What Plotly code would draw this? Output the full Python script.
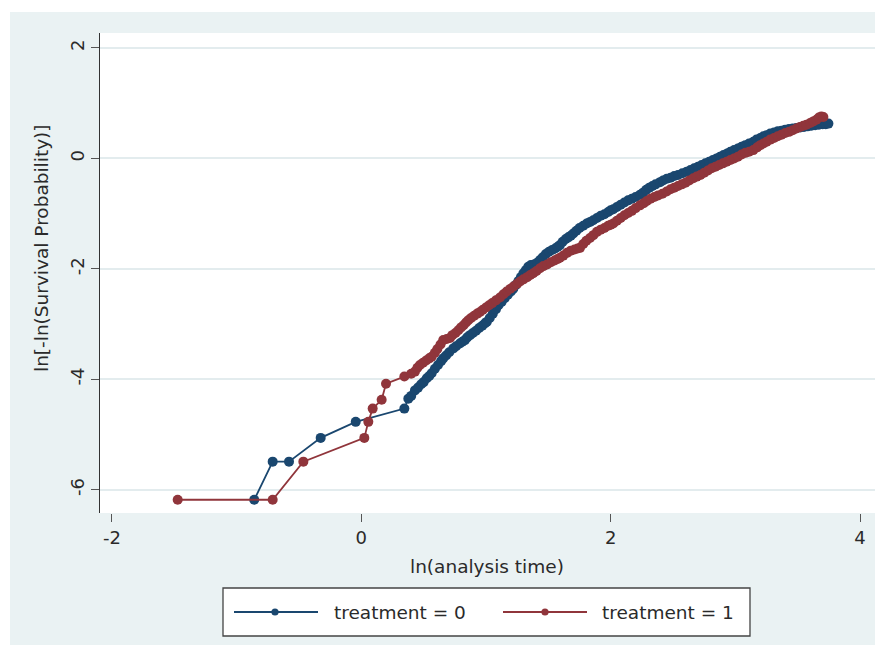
import plotly.graph_objects as go

# treatment = 0 (blue)
t0_x = [-0.859, -0.711, -0.580, -0.326, -0.045, 0.345, 0.377, 0.400, 0.430, 0.455,
        0.480, 0.500, 0.525, 0.545, 0.564, 0.590, 0.615, 0.640, 0.657, 0.680,
        0.705, 0.738, 0.760, 0.790, 0.810, 0.831, 0.850, 0.872, 0.895, 0.920,
        0.945, 0.970, 0.990, 1.006, 1.030, 1.055, 1.080, 1.100, 1.125, 1.150,
        1.175, 1.200, 1.219, 1.240, 1.260, 1.280, 1.300, 1.320, 1.340, 1.360,
        1.385, 1.410, 1.433, 1.455, 1.480, 1.505, 1.530, 1.555, 1.575, 1.593,
        1.615, 1.640, 1.660, 1.680, 1.700, 1.725, 1.750, 1.780, 1.808, 1.835,
        1.860, 1.890, 1.920, 1.950, 1.980, 2.000, 2.021, 2.050, 2.080, 2.110,
        2.140, 2.170, 2.200, 2.235, 2.260, 2.285, 2.310, 2.335, 2.360, 2.396,
        2.420, 2.450, 2.480, 2.510, 2.540, 2.575, 2.610, 2.640, 2.670, 2.700,
        2.730, 2.760, 2.790, 2.820, 2.850, 2.877, 2.905, 2.935, 2.960, 2.990,
        3.020, 3.050, 3.080, 3.110, 3.144, 3.170, 3.200, 3.225, 3.250, 3.280,
        3.310, 3.340, 3.370, 3.400, 3.430, 3.460, 3.490, 3.520, 3.550, 3.580,
        3.610, 3.640, 3.670, 3.700, 3.725, 3.746]
t0_y = [-6.18, -5.49, -5.49, -5.06, -4.77, -4.53, -4.35, -4.30, -4.20, -4.15,
        -4.09, -4.05, -3.98, -3.94, -3.89, -3.81, -3.74, -3.67, -3.62, -3.57,
        -3.51, -3.44, -3.40, -3.35, -3.32, -3.29, -3.24, -3.20, -3.16, -3.12,
        -3.07, -3.03, -2.99, -2.96, -2.89, -2.81, -2.73, -2.66, -2.60, -2.53,
        -2.47, -2.41, -2.36, -2.29, -2.22, -2.15, -2.08, -2.02, -1.96, -1.93,
        -1.92, -1.89, -1.84, -1.79, -1.73, -1.69, -1.66, -1.63, -1.60, -1.57,
        -1.51, -1.46, -1.43, -1.40, -1.36, -1.31, -1.26, -1.22, -1.18, -1.15,
        -1.12, -1.08, -1.04, -1.01, -0.97, -0.94, -0.92, -0.88, -0.84, -0.80,
        -0.76, -0.73, -0.70, -0.66, -0.62, -0.57, -0.53, -0.50, -0.47, -0.43,
        -0.40, -0.37, -0.35, -0.32, -0.30, -0.27, -0.24, -0.21, -0.18, -0.15,
        -0.12, -0.09, -0.06, -0.03, 0.00, 0.03, 0.06, 0.09, 0.12, 0.15,
        0.18, 0.21, 0.24, 0.27, 0.30, 0.34, 0.37, 0.40, 0.42, 0.45,
        0.47, 0.49, 0.50, 0.52, 0.53, 0.54, 0.55, 0.56, 0.57, 0.58,
        0.59, 0.60, 0.61, 0.62, 0.62, 0.63]

# treatment = 1 (red)
t1_x = [-1.473, -0.711, -0.465, 0.024, 0.056, 0.091, 0.163, 0.198, 0.345, 0.400,
        0.430, 0.450, 0.470, 0.495, 0.520, 0.545, 0.564, 0.590, 0.610, 0.635,
        0.657, 0.685, 0.711, 0.730, 0.755, 0.778, 0.800, 0.820, 0.840, 0.858,
        0.880, 0.905, 0.930, 0.952, 0.975, 1.000, 1.025, 1.050, 1.080, 1.112,
        1.140, 1.166, 1.195, 1.220, 1.250, 1.273, 1.300, 1.330, 1.355, 1.379,
        1.405, 1.433, 1.460, 1.490, 1.520, 1.550, 1.575, 1.593, 1.620, 1.650,
        1.680, 1.710, 1.735, 1.754, 1.780, 1.805, 1.834, 1.861, 1.890, 1.920,
        1.950, 1.980, 2.000, 2.021, 2.050, 2.080, 2.110, 2.140, 2.170, 2.200,
        2.235, 2.265, 2.290, 2.320, 2.350, 2.380, 2.415, 2.449, 2.480, 2.510,
        2.540, 2.570, 2.600, 2.630, 2.663, 2.690, 2.720, 2.750, 2.780, 2.810,
        2.840, 2.870, 2.900, 2.930, 2.960, 2.990, 3.020, 3.050, 3.080, 3.110,
        3.144, 3.175, 3.200, 3.225, 3.251, 3.280, 3.310, 3.340, 3.370, 3.400,
        3.430, 3.460, 3.490, 3.519, 3.545, 3.570, 3.600, 3.625, 3.650, 3.670,
        3.690, 3.706]
t1_y = [-6.18, -6.18, -5.49, -5.06, -4.77, -4.53, -4.37, -4.08, -3.95, -3.90,
        -3.86, -3.79, -3.74, -3.70, -3.66, -3.62, -3.59, -3.52, -3.45, -3.37,
        -3.29, -3.27, -3.25, -3.20, -3.16, -3.11, -3.06, -3.02, -2.97, -2.93,
        -2.89, -2.85, -2.81, -2.78, -2.74, -2.70, -2.66, -2.62, -2.57, -2.52,
        -2.46, -2.41, -2.36, -2.32, -2.27, -2.23, -2.19, -2.15, -2.11, -2.08,
        -2.04, -1.99, -1.95, -1.92, -1.88, -1.85, -1.82, -1.80, -1.76, -1.71,
        -1.67, -1.65, -1.63, -1.62, -1.55, -1.49, -1.44, -1.39, -1.33, -1.29,
        -1.26, -1.22, -1.20, -1.18, -1.13, -1.08, -1.03, -0.99, -0.95, -0.90,
        -0.85, -0.81, -0.77, -0.73, -0.70, -0.67, -0.64, -0.60, -0.56, -0.53,
        -0.50, -0.47, -0.44, -0.40, -0.36, -0.33, -0.30, -0.26, -0.22, -0.18,
        -0.15, -0.12, -0.09, -0.06, -0.03, 0.00, 0.03, 0.07, 0.10, 0.12,
        0.15, 0.20, 0.24, 0.27, 0.30, 0.34, 0.37, 0.40, 0.43, 0.46,
        0.48, 0.51, 0.54, 0.57, 0.59, 0.61, 0.64, 0.67, 0.70, 0.74,
        0.76, 0.75]

x_ticks = [-2, 0, 2, 4]
y_ticks = [-6, -4, -2, 0, 2]
legend_labels = ["treatment = 0", "treatment = 1"]
x_title = "ln(analysis time)"
y_title = "ln[-ln(Survival Probability)]"

BLUE = "#1a476f"
RED = "#90353b"
BG = "#eaf2f3"
FONT = "DejaVu Sans, Liberation Sans, Arial, sans-serif"
TXT = "#2a2a2a"

# figure geometry (page has an 8px body margin)
OFF = 8
W, H = 883 - OFF, 653 - OFF
ml, mr, mt, mb = 100 - OFF, 6, 33 - OFF, 140
pw, ph = W - ml - mr, H - mt - mb

def pxx(xpage):
    return (xpage - OFF - ml) / pw

def pxy(ypage):
    return (H - mb - (ypage - OFF)) / ph

fig = go.Figure()
fig.add_trace(go.Scatter(x=t0_x, y=t0_y, mode="lines+markers", name=legend_labels[0],
                         line=dict(color=BLUE, width=1.8),
                         marker=dict(color=BLUE, size=10), showlegend=False))
fig.add_trace(go.Scatter(x=t1_x, y=t1_y, mode="lines+markers", name=legend_labels[1],
                         line=dict(color=RED, width=1.8),
                         marker=dict(color=RED, size=10), showlegend=False))

shapes = [
    dict(type="rect", xref="paper", yref="paper", layer="below",
         x0=pxx(10), x1=pxx(883), y0=pxy(645), y1=pxy(12),
         fillcolor=BG, line=dict(width=0)),
    dict(type="rect", xref="paper", yref="paper", layer="below",
         x0=0, x1=1, y0=0, y1=1, fillcolor="white", line=dict(width=0)),
    # legend box
    dict(type="rect", xref="paper", yref="paper",
         x0=pxx(223), x1=pxx(750), y0=pxy(636), y1=pxy(588),
         fillcolor="white", line=dict(color="#444444", width=1.3)),
]
annotations = [
    dict(text=y_title, xref="paper", yref="paper", x=pxx(42), y=pxy(248),
         xanchor="center", yanchor="middle", textangle=-90, showarrow=False,
         font=dict(family=FONT, size=18.5, color=TXT)),
    dict(text=x_title, xref="paper", yref="paper", x=pxx(487), y=pxy(566),
         xanchor="center", yanchor="middle", showarrow=False,
         font=dict(family=FONT, size=18.5, color=TXT)),
]
leg_y = 612
for (lx0, lx1, mx, tx), col, lab in zip([(234, 318, 275, 332), (503, 587, 545, 600)],
                                         [BLUE, RED], legend_labels):
    shapes.append(dict(type="line", xref="paper", yref="paper",
                       x0=pxx(lx0), x1=pxx(lx1), y0=pxy(leg_y), y1=pxy(leg_y),
                       line=dict(color=col, width=1.8)))
    r = 3.6
    shapes.append(dict(type="circle", xref="paper", yref="paper",
                       x0=pxx(mx - r), x1=pxx(mx + r), y0=pxy(leg_y + r), y1=pxy(leg_y - r),
                       fillcolor=col, line=dict(color=col, width=0)))
    annotations.append(dict(text=lab, xref="paper", yref="paper", x=pxx(tx), y=pxy(leg_y),
                            xanchor="left", yanchor="middle", showarrow=False,
                            font=dict(family=FONT, size=18.5, color=TXT)))

fig.update_layout(
    width=W, height=H,
    margin=dict(l=ml, r=mr, t=mt, b=mb),
    paper_bgcolor="white",
    plot_bgcolor="white",
    font=dict(family=FONT, color=TXT, size=18),
    shapes=shapes,
    annotations=annotations,
    showlegend=False,
    xaxis=dict(range=[-2.096, 4.136], tickvals=x_ticks, ticktext=[str(v) for v in x_ticks],
               showgrid=False, zeroline=False, showline=False,
               ticks="outside", ticklen=8, tickcolor="#555555", tickwidth=1,
               tickfont=dict(size=18, color=TXT)),
    yaxis=dict(range=[-6.42, 2.27], tickvals=y_ticks, ticktext=[str(v) for v in y_ticks],
               showgrid=True, gridcolor="#e3ecee", gridwidth=1.5, zeroline=False,
               showline=True, linecolor="#333333", linewidth=1.2,
               ticks="outside", ticklen=8, tickcolor="#555555", tickwidth=1,
               tickangle=-90,
               tickfont=dict(size=18, color=TXT)),
)

fig.write_html("out.html")
